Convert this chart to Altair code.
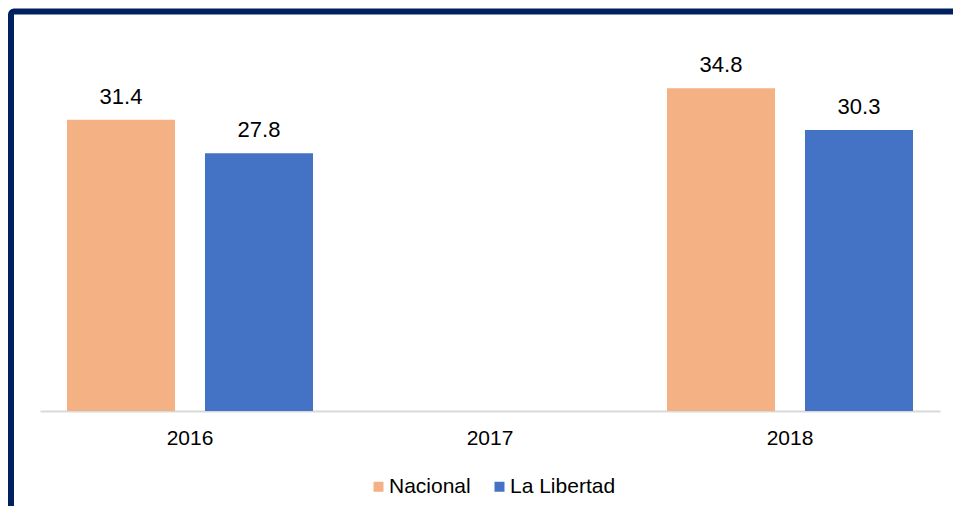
import altair as alt
import pandas as pd

years = ["2016", "2017", "2018"]
series = ["Nacional", "La Libertad"]
nacional = [31.4, None, 34.8]
libertad = [27.8, None, 30.3]
colors = ["#F4B183", "#4472C4"]

rows = []
for i, y in enumerate(years):
    rows.append({"year": y, "series": "Nacional", "value": nacional[i]})
    rows.append({"year": y, "series": "La Libertad", "value": libertad[i]})
df = pd.DataFrame(rows)

FONT = "Liberation Sans"

x_enc = alt.X(
    "year:N",
    scale=alt.Scale(domain=years, paddingInner=0, paddingOuter=0),
    axis=alt.Axis(
        title=None, labelAngle=0, labelFontSize=21, labelPadding=16,
        ticks=False, tickSize=0, domainColor="#D9D9D9", domainWidth=2,
        labelColor="#000000", labelFont=FONT, grid=False,
    ),
)
xo_enc = alt.XOffset(
    "series:N",
    scale=alt.Scale(domain=series, paddingInner=0.217, paddingOuter=0.1955),
)
y_enc = alt.Y("value:Q", scale=alt.Scale(domain=[0, 40]), axis=None)

base = alt.Chart(df).transform_filter("datum.value != null")

bars = base.mark_bar().encode(
    x=x_enc,
    xOffset=xo_enc,
    y=y_enc,
    color=alt.Color(
        "series:N",
        scale=alt.Scale(domain=series, range=colors),
        legend=alt.Legend(
            title=None, orient="none", legendX=328, legendY=436,
            direction="horizontal", symbolType="square", symbolSize=100,
            symbolStrokeWidth=0, labelFontSize=21, labelFont=FONT,
            labelColor="#000000", labelOffset=0, columnPadding=18,
        ),
    ),
)

labels = base.mark_text(
    baseline="alphabetic", dy=-16, fontSize=22, font=FONT, color="#000000"
).encode(
    x=x_enc,
    xOffset=xo_enc,
    y=y_enc,
    text=alt.Text("value:Q", format=".1f"),
)

frame = alt.Chart(pd.DataFrame({"a": [0]})).mark_rect(
    fillOpacity=0, stroke="#002060", strokeWidth=6, cornerRadius=3
).encode(
    x=alt.value(-29), x2=alt.value(1100),
    y=alt.value(-28.5), y2=alt.value(800),
)

chart = alt.layer(frame, bars, labels).properties(
    width=900,
    height=371,
    title=alt.TitleParams(
        "(Porcentaje)", fontSize=26, font=FONT, color="#1F3864",
        fontWeight="normal", offset=40, anchor="middle", baseline="bottom",
    ),
    autosize=alt.AutoSizeParams(type="none"),
    padding={"left": 32, "top": 32, "right": 13, "bottom": 95},
).configure_view(strokeWidth=0)

chart.save("out.html", embed_options={"renderer": "svg", "actions": False})
